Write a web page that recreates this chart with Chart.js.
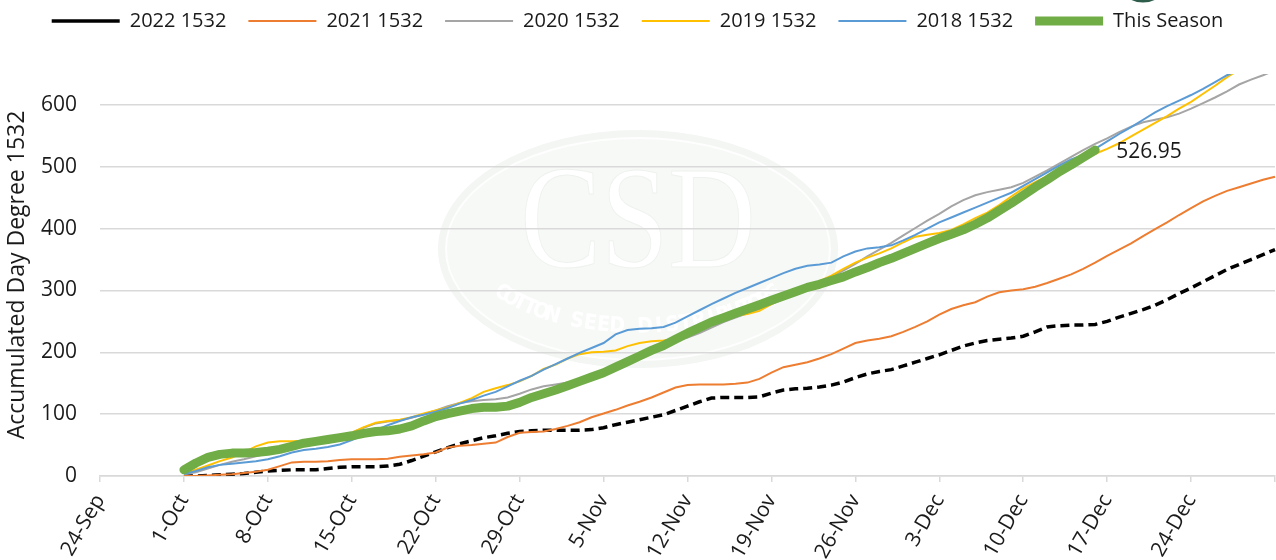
<!DOCTYPE html>
<html>
<head>
<meta charset="utf-8">
<script src="https://cdn.jsdelivr.net/npm/chart.js@4.4.0/dist/chart.umd.min.js"></script>
<style>
  html, body { margin: 0; padding: 0; background: #fff; }
  #chart { display: block; }
</style>
</head>
<body>
<canvas id="chart" width="1276" height="560"></canvas>
<script>
var MONTHS = ['Jan', 'Feb', 'Mar', 'Apr', 'May', 'Jun', 'Jul', 'Aug', 'Sep', 'Oct', 'Nov', 'Dec'];
var SERIES_START = '1-Oct';

// day labels 24-Sep .. 31-Dec, one per day
var days = [];
for (var dt = new Date(2022, 8, 24); dt <= new Date(2022, 11, 31); dt.setDate(dt.getDate() + 1)) {
  days.push(dt.getDate() + '-' + MONTHS[dt.getMonth()]);
}

// accumulated day degrees, one value per day from 1-Oct
var s2022 = [0,0,1,2,3,4,6,8,9,10, 10,10,12,14,15,15,15,16,19,25, 32,39,46,52,57,62,65,69,72,73,
  74,74,74,74,75,78,83,87,91,95, 99,106,113,120,126,127,127,127,128,134, 139,141,142,144,147,152,159,165,169,172,
  178,184,190,196,203,210,215,219,221,223, 226,233,241,243,244,244,245,250,257,263, 269,276,285,295,304,314,324,334,342,350,
  358,366];
var s2021 = [0,0,1,2,3,5,7,10,16,22, 23,23,24,26,27,27,27,28,31,33, 35,38,46,49,50,52,54,63,70,71,
  72,76,81,87,95,101,107,114,120,127, 135,143,147,148,148,148,149,151,157,167, 176,180,184,190,197,206,215,219,222,226,
  233,241,250,261,270,276,281,290,297,300, 302,306,312,319,326,335,345,356,366,376, 388,399,410,422,433,444,453,461,467,473,
  479,484];
var s2020 = [3,6,12,18,23,27,32,37,43,49, 53,56,59,63,70,78,85,88,90,94, 100,106,113,118,121,123,124,127,133,140,
  145,148,151,157,163,170,177,186,195,203, 212,219,224,231,240,249,256,263,270,278, 286,295,304,313,322,332,343,355,366,377,
  389,401,413,424,436,446,454,459,463,467, 474,484,494,505,516,527,537,546,556,565, 572,576,580,586,594,603,612,622,633,641,
  648,656];
var s2019 = [4,10,17,24,30,38,48,54,56,56, 57,59,61,64,70,79,86,89,91,95, 101,106,111,118,126,136,142,147,153,162,
  173,180,190,197,200,201,203,210,215,218, 219,222,230,239,246,253,259,262,267,278, 288,297,306,315,324,335,345,353,360,368,
  378,387,390,393,398,407,417,426,438,452, 465,475,485,495,505,513,521,529,538,549, 560,571,582,594,605,618,631,645,657,668,
  680,691];
var s2018 = [3,8,14,18,20,22,24,27,32,38, 42,44,47,51,58,66,74,82,89,95, 99,104,110,117,123,130,136,145,154,162,
  172,181,190,199,207,215,229,236,238,239, 241,248,258,268,278,287,296,304,312,320, 328,335,340,342,345,355,363,368,370,373,
  381,390,400,410,418,426,434,442,450,458, 469,480,491,502,512,519,529,541,553,564, 576,588,598,607,616,626,637,648,658,668,
  678,688];
var thisSeason = [10,21,30,35,37,37,38,40,43,48, 53,56,59,62,65,69,72,73,76,81, 89,96,101,105,109,111,111,113,119,127,
  133,139,146,153,160,167,176,185,194,203, 211,221,231,240,249,256,263,270,277,284, 291,298,305,310,316,322,330,337,345,352,
  360,368,376,384,391,398,407,417,429,441, 454,467,479,492,503,515,526.95];

function onDays(values) {
  var start = days.indexOf(SERIES_START);
  return days.map(function(d, i) {
    var v = values[i - start];
    return v === undefined ? null : v;
  });
}

function line(label, values, color, width, order, extra) {
  var ds = {
    label: label,
    data: onDays(values),
    borderColor: color,
    backgroundColor: color,
    borderWidth: width,
    pointRadius: 0,
    tension: 0,
    fill: false,
    order: order
  };
  for (var k in extra) ds[k] = extra[k];
  return ds;
}

var LEGEND_MID_Y = 21;

var watermark = {
  id: 'watermark',
  beforeDraw: function(chart) {
    var c = chart.ctx;
    c.save();
    c.beginPath();
    c.ellipse(638, 249, 200, 119, 0, 0, Math.PI * 2);
    c.fillStyle = '#f3f6f3';
    c.fill();
    c.beginPath();
    c.ellipse(638, 249, 192, 111, 0, 0, Math.PI * 2);
    c.fillStyle = '#f7f9f7';
    c.fill();
    c.strokeStyle = '#fdfefd';
    c.lineWidth = 2;
    c.stroke();

    c.save();
    c.translate(638, 267);
    c.scale(0.83, 1);
    c.font = '146px "Liberation Serif", serif';
    c.textAlign = 'center';
    c.textBaseline = 'alphabetic';
    c.fillStyle = '#ffffff';
    c.fillText('CSD', 0, 0);
    c.strokeStyle = '#eef2ee';
    c.lineWidth = 1;
    c.strokeText('CSD', 0, 0);
    c.restore();

    var txt = 'COTTON SEED DISTRIBUTORS';
    var t0 = 145.5 * Math.PI / 180, t1 = 34.5 * Math.PI / 180;
    c.font = 'bold 21px "DejaVu Sans Condensed", sans-serif';
    c.textAlign = 'center';
    c.textBaseline = 'middle';
    c.fillStyle = '#ffffff';
    for (var i = 0; i < txt.length; i++) {
      var t = t0 + (t1 - t0) * i / (txt.length - 1);
      var px = 638 + 165 * Math.cos(t), py = 249 + 78 * Math.sin(t);
      c.save();
      c.translate(px, py);
      c.rotate(Math.atan2(-78 * Math.cos(t), 165 * Math.sin(t)));
      c.fillText(txt[i], 0, 0);
      c.restore();
    }

    // bit of the logo peeking in at the top
    c.beginPath();
    c.ellipse(1143, -21, 24, 22, 0, 0, Math.PI * 2);
    c.strokeStyle = '#2f5d4c';
    c.lineWidth = 3;
    c.stroke();
    c.restore();
  },
  afterLayout: function(chart) {
    var lg = chart.legend;
    var o = lg.options.labels;
    lg.top = LEGEND_MID_Y - o.padding - o.font.size / 2;
  }
};

var lastValue = {
  id: 'lastValue',
  afterDatasetsDraw: function(chart) {
    var i = chart.data.datasets.length - 1;
    var vals = chart.data.datasets[i].data;
    var last = -1;
    for (var k = 0; k < vals.length; k++) if (vals[k] !== null) last = k;
    var pt = chart.getDatasetMeta(i).data[last];
    var c = chart.ctx;
    c.save();
    c.font = '21px "Open Sans", sans-serif';
    c.fillStyle = '#1a1a1a';
    c.textBaseline = 'middle';
    c.fillText(vals[last].toFixed(2), pt.x + 21, pt.y + 2);
    c.restore();
  }
};

Chart.defaults.font.family = '"Open Sans", sans-serif';
Chart.defaults.color = '#1a1a1a';

var chart = new Chart(document.getElementById('chart'), {
  type: 'line',
  data: {
    labels: days,
    datasets: [
      line('2022 1532', s2022, '#000000', 3.5, 5, { borderDash: [9, 5] }),
      line('2021 1532', s2021, '#ED7D31', 2, 4),
      line('2020 1532', s2020, '#A5A5A5', 2, 3),
      line('2019 1532', s2019, '#FFC000', 2, 2),
      line('2018 1532', s2018, '#5B9BD5', 2, 1),
      line('This Season', thisSeason, '#70AD47', 9, 0, { borderCapStyle: 'round', borderJoinStyle: 'round' })
    ]
  },
  options: {
    responsive: false,
    animation: false,
    devicePixelRatio: 1,
    layout: { padding: { top: 22, right: 1, left: 0, bottom: 0 } },
    plugins: {
      legend: {
        position: 'top',
        labels: {
          usePointStyle: true,
          pointStyle: 'line',
          pointStyleWidth: 68,
          padding: 22,
          font: { size: 20 },
          sort: function(a, b) { return a.datasetIndex - b.datasetIndex; }
        }
      },
      tooltip: { enabled: false }
    },
    scales: {
      x: {
        type: 'category',
        offset: false,
        grid: {
          drawOnChartArea: false,
          drawTicks: true,
          tickLength: 6,
          lineWidth: 1.5,
          color: function(c) { return c.index % 7 === 0 ? '#d9d9d9' : 'rgba(0,0,0,0)'; }
        },
        border: { color: '#d9d9d9', width: 1.5 },
        ticks: {
          autoSkip: false,
          minRotation: 60,
          maxRotation: 60,
          padding: 8,
          font: { size: 21 },
          callback: function(v, i) { return (i % 7 === 0 && i < days.length - 1) ? days[i] : ''; }
        },
        afterFit: function(s) {
          s.height = 84;
          s.paddingRight = 0;
          s.paddingLeft = 0;
        }
      },
      y: {
        min: 0,
        max: 650,
        ticks: { stepSize: 100, includeBounds: false, padding: 23, font: { size: 21 } },
        grid: { color: '#d9d9d9', lineWidth: 1.5, drawTicks: false },
        border: { display: false },
        title: {
          display: true,
          text: 'Accumulated Day Degree 1532',
          font: { size: 23 },
          padding: { top: 4, bottom: 0 }
        },
        afterFit: function(s) { s.width = 100; }
      }
    }
  },
  plugins: [watermark, lastValue]
});
</script>
</body>
</html>
